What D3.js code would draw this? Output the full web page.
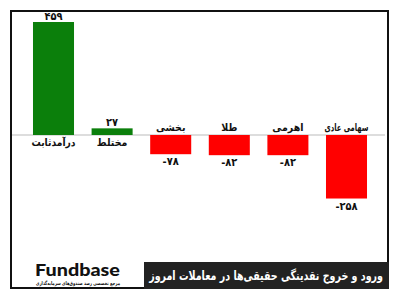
<!DOCTYPE html>
<html><head><meta charset="utf-8">
<script src="https://cdn.jsdelivr.net/npm/d3@7/dist/d3.min.js"></script>
<style>html,body{margin:0;padding:0;background:#fff;}svg{display:block;}</style>
</head><body>
<svg id="c" width="400" height="300"></svg>
<script>
const categories = ["درآمدثابت","مختلط","بخشی","طلا","اهرمی","سهامی عادی"];
const values = [459, 27, -78, -82, -82, -258];
const valueLabels = ["۴۵۹","۲۷","-۷۸","-۸۲","-۸۲","-۲۵۸"];
const title = "ورود و خروج نقدینگی حقیقی‌ها در معاملات امروز";
const logoText = "Fundbase";
const logoSub = "مرجع تخصصی رصد صندوق‌های سرمایه‌گذاری";

const svg = d3.select("#c");
const font = "'DejaVu Sans Condensed', 'DejaVu Sans', sans-serif";

// fit a text horizontally to a target width, keeping its height
function squeeze(sel, width, anchorX, grow) {
  const w = sel.node().getComputedTextLength();
  if (w > width || (grow && w > 0)) {
    const k = width / w;
    sel.attr("transform", `translate(${anchorX},0) scale(${k},1) translate(${-anchorX},0)`);
  }
}

// frame
svg.append("rect").attr("x",11).attr("y",11).attr("width",377).attr("height",277)
  .attr("fill","#fff").attr("stroke","#111").attr("stroke-width",2);

const x = d3.scaleBand().domain(categories).range([24.2, 375.8]).paddingInner(0.3).paddingOuter(0.15);
const y = d3.scaleLinear().domain([0, 459]).range([135, 22]);

// baseline
svg.append("line").attr("x1",12).attr("x2",385).attr("y1",y(0)).attr("y2",y(0))
  .attr("stroke","#bbb").attr("stroke-width",1);

const g = svg.append("g");
g.selectAll("rect.bar").data(values).join("rect").attr("class","bar")
  .attr("x",(d,i)=>x(categories[i]))
  .attr("width",x.bandwidth())
  .attr("y",d=>Math.min(y(d),y(0)))
  .attr("height",d=>Math.abs(y(d)-y(0)))
  .attr("fill",d=>d>=0?"#0b7f0b":"#ff0000");

// value labels
g.selectAll("text.val").data(values).join("text").attr("class","val")
  .attr("x",(d,i)=>x(categories[i])+x.bandwidth()/2)
  .attr("y",d=>d>=0? y(d)-2 : y(d)+11)
  .attr("text-anchor","middle").attr("direction","ltr")
  .attr("font-family",font).attr("font-weight","bold").attr("font-size",11).attr("fill","#111")
  .text((d,i)=>valueLabels[i]);

// category labels
g.selectAll("text.cat").data(values).join("text").attr("class","cat")
  .attr("x",(d,i)=>x(categories[i])+x.bandwidth()/2)
  .attr("y",d=>d>=0? y(0)+11 : y(0)-4)
  .attr("text-anchor","middle")
  .attr("font-family",font).attr("font-weight","bold").attr("font-size",10.5).attr("fill","#111")
  .text((d,i)=>categories[i])
  .each(function(d,i){ squeeze(d3.select(this), 44, x(categories[i])+x.bandwidth()/2); });

// title box
svg.append("rect").attr("x",144).attr("y",262).attr("width",245).attr("height",27).attr("fill","#222");
const t = svg.append("text").attr("x",383).attr("y",280).attr("text-anchor","start").attr("direction","rtl")
  .attr("font-family",font).attr("font-weight","bold").attr("font-size",13).attr("fill","#fff")
  .text(title);
squeeze(t, 234, 383);

// logo
const lg = svg.append("text").attr("x",35).attr("y",276).attr("font-family","'Lato','DejaVu Sans',sans-serif").attr("font-weight","900")
  .attr("font-size",17).attr("fill","#111").text(logoText);
squeeze(lg, 85, 35, true);
const ls = svg.append("text").attr("x",120).attr("y",285.5).attr("text-anchor","start").attr("direction","rtl")
  .attr("font-family",font).attr("font-weight","bold").attr("font-size",5.2).attr("fill","#111")
  .text(logoSub);
squeeze(ls, 84, 120);
</script>
</body></html>
